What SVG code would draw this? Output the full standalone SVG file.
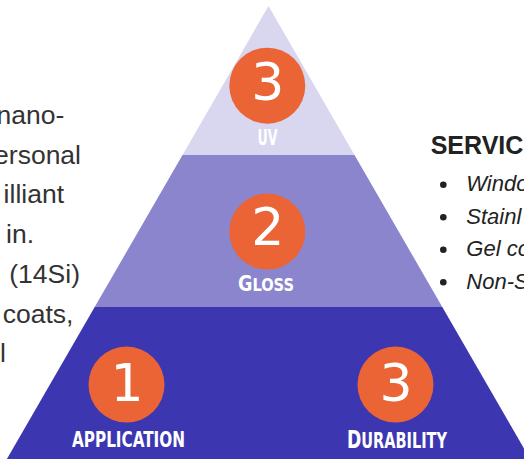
<svg xmlns="http://www.w3.org/2000/svg" width="524" height="459" viewBox="0 0 524 459">
<style>
.body{font-family:"Liberation Sans",Arial,sans-serif;font-size:26.5px;fill:#333333;text-anchor:end}
.head{font-family:"Liberation Sans",Arial,sans-serif;font-size:25px;font-weight:bold;fill:#222222}
.item{font-family:"Liberation Sans",Arial,sans-serif;font-size:22px;font-style:italic;fill:#222222}
.num{font-family:"DejaVu Sans",sans-serif;font-size:52px;fill:#ffffff;text-anchor:middle}
.lbl{font-family:"Liberation Sans Narrow","DejaVu Sans Condensed",sans-serif;font-weight:bold;font-size:21px;fill:#ffffff;text-anchor:middle}
.badge{fill:#ea6436}
.dot{fill:#222222}
</style>
<rect width="524" height="459" fill="#ffffff"/>
<g id="left-text">
<text class="body" x="64.3" y="124">nano-</text>
<text class="body" x="81" y="163.7">ersonal</text>
<text class="body" x="64" y="203.4">illiant</text>
<text class="body" x="34" y="243.1">in.</text>
<text class="body" x="80" y="282.8">(14Si)</text>
<text class="body" x="73.4" y="322.5">coats,</text>
<text class="body" x="5.8" y="362.2">l</text>
</g>
<g id="services">
<text class="head" x="430.7" y="153.8">SERVIC</text>
<circle class="dot" cx="443.3" cy="184.7" r="3.3"/>
<circle class="dot" cx="443.3" cy="217.2" r="3.3"/>
<circle class="dot" cx="443.3" cy="249.7" r="3.3"/>
<circle class="dot" cx="443.3" cy="282.2" r="3.3"/>
<text class="item" x="466.3" y="191.3">Windo</text>
<text class="item" x="466.3" y="223.8">Stainl</text>
<text class="item" x="466.3" y="256.3">Gel co</text>
<text class="item" x="466.3" y="288.8">Non-S</text>
</g>
<g id="tier-top">
<polygon points="268.5,6 354.5,155 182.5,155" fill="#d9d6ef"/>
<circle class="badge" cx="267.3" cy="85.7" r="38"/>
<text class="num" x="267.8" y="100.2">3</text>
<text class="lbl" x="267.5" y="145" textLength="20" lengthAdjust="spacingAndGlyphs">UV</text>
</g>
<g id="tier-mid">
<polygon points="182.5,155 354.5,155 442.3,307 94.7,307" fill="#8a85cd"/>
<circle class="badge" cx="267.3" cy="231.6" r="38"/>
<text class="num" x="267.8" y="245">2</text>
<text class="lbl" x="266" y="291" textLength="56" lengthAdjust="spacingAndGlyphs">G<tspan font-size="17.5">LOSS</tspan></text>
</g>
<g id="tier-bottom">
<polygon points="94.7,307 442.3,307 530.1,459 6.9,459" fill="#3c37b1"/>
</g>
<g id="node-application">
<circle class="badge" cx="126.5" cy="384.6" r="38"/>
<text class="num" x="127" y="400.5">1</text>
<text class="lbl" x="128.5" y="446.7" textLength="113" lengthAdjust="spacingAndGlyphs">APPLICATION</text>
</g>
<g id="node-durability">
<circle class="badge" cx="395.5" cy="384.6" r="38"/>
<text class="num" x="396" y="400.5">3</text>
<text class="lbl" x="397" y="448" textLength="100" lengthAdjust="spacingAndGlyphs"><tspan font-size="25">D</tspan>URABILITY</text>
</g>
<g id="connectors"></g>
</svg>
